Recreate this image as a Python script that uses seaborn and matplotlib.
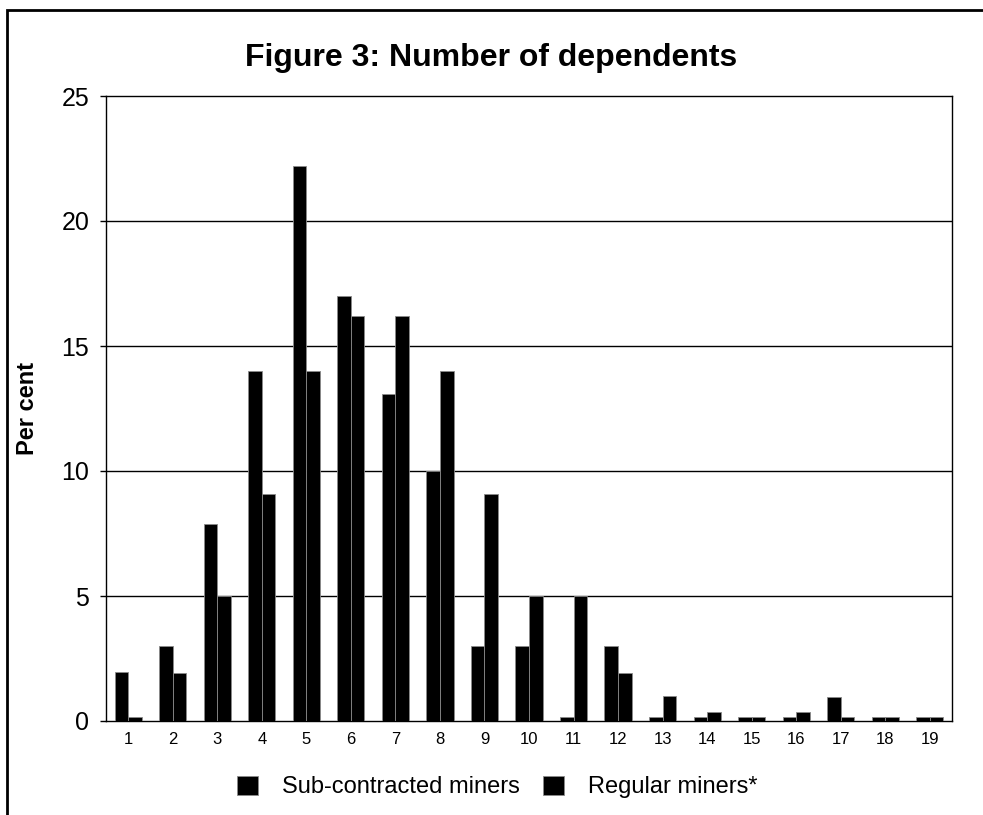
import pandas as pd
import seaborn as sns
import matplotlib.pyplot as plt
from matplotlib.patches import Rectangle

# Number of dependents, per cent of miners in each group
dependents = [str(i) for i in range(1, 20)]
sub_contracted = [1.98, 3.0, 7.9, 14.0, 22.2, 17.0, 13.1, 10.0, 3.0, 3.0,
                  0.17, 3.0, 0.17, 0.17, 0.17, 0.17, 0.97, 0.17, 0.17]
regular = [0.17, 1.92, 5.0, 9.1, 14.0, 16.2, 16.2, 14.0, 9.1, 5.0,
           5.0, 1.92, 1.0, 0.37, 0.17, 0.37, 0.17, 0.17, 0.17]
groups = ["Sub-contracted miners", "Regular miners*"]

df = pd.DataFrame({
    "dependents": dependents * 2,
    "pct": sub_contracted + regular,
    "group": [groups[0]] * len(dependents) + [groups[1]] * len(dependents),
})

sns.set_theme(style="white")
plt.rcParams['font.family'] = ['Liberation Sans', 'DejaVu Sans']
plt.rcParams['text.color'] = 'black'
plt.rcParams['axes.labelcolor'] = 'black'
plt.rcParams['xtick.color'] = 'black'
plt.rcParams['ytick.color'] = 'black'

fig = plt.figure(figsize=(9.83, 8.15), dpi=100)
ax = fig.add_axes([106 / 983, 1 - 721 / 815, (952 - 106) / 983, (721 - 96) / 815])

sns.barplot(data=df, x="dependents", y="pct", hue="group", order=dependents,
            hue_order=groups, palette=["black", "black"], width=0.61,
            edgecolor="#8a8a8a", linewidth=0.6, saturation=1, ax=ax, zorder=3)

ax.set_ylim(0, 25)
ax.set_yticks([0, 5, 10, 15, 20, 25])
ax.set_xlim(-0.5, len(dependents) - 0.5)
for y in [5, 10, 15, 20]:
    ax.axhline(y, color="black", lw=1.0, zorder=1)

for s in ax.spines.values():
    s.set_visible(True)
    s.set_color("black")
    s.set_linewidth(1.0)

ax.tick_params(axis="y", direction="out", length=4, width=1, color="black",
               labelsize=18, pad=8, left=True, labelcolor="black")
ax.tick_params(axis="x", length=0, labelsize=12, pad=8, labelcolor="black")
ax.set_xlabel("")
ax.set_ylabel("Per cent", fontsize=17, fontweight="bold", labelpad=16, color="black")

fig.text(491 / 983, 1 - 58 / 815, "Figure 3: Number of dependents",
         ha="center", va="center", fontsize=23, fontweight="bold", color="black")

handles, labels = ax.get_legend_handles_labels()
leg = ax.legend(handles, labels, loc="center", bbox_to_anchor=(497 / 983, 1 - 787 / 815),
                bbox_transform=fig.transFigure, ncol=2, frameon=False, fontsize=17,
                handlelength=0.9, handleheight=0.9, handletextpad=1.0, columnspacing=1.0)
for t in leg.get_texts():
    t.set_color("black")

# outer frame of the figure
fig.patches.append(Rectangle((7 / 983, -0.2), 1.3, 1 - 10 / 815 + 0.2,
                             transform=fig.transFigure, fill=False,
                             edgecolor="black", linewidth=2))

fig.savefig("out.png", dpi=100)
